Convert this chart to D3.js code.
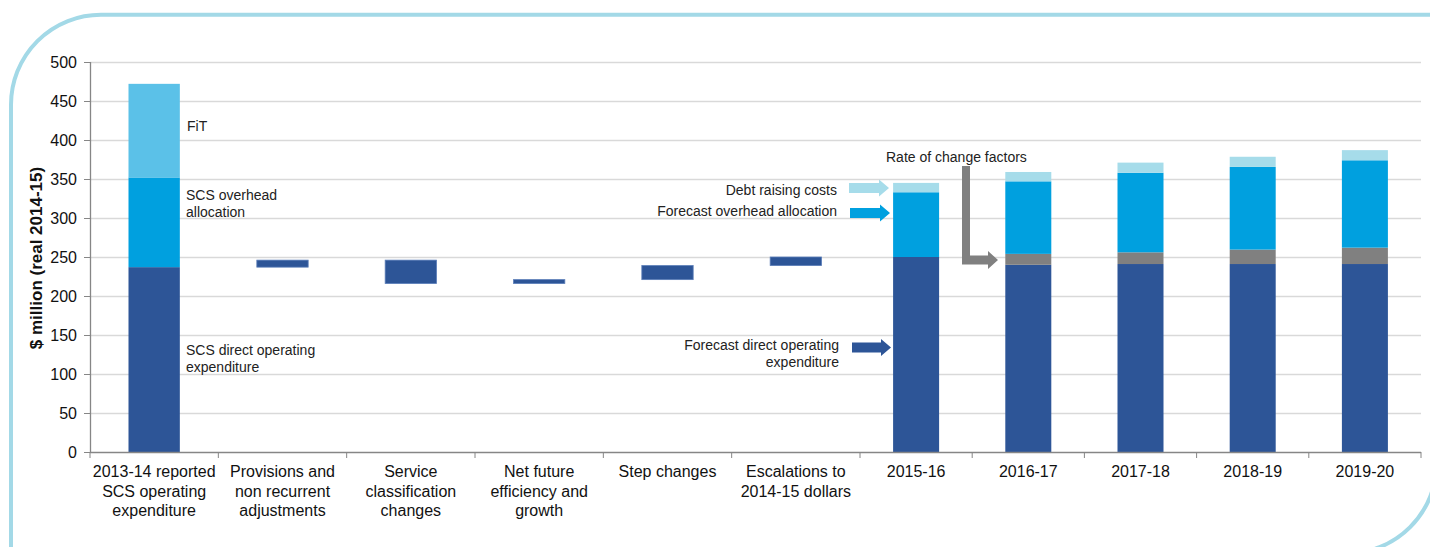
<!DOCTYPE html>
<html><head><meta charset="utf-8">
<script src="https://cdn.jsdelivr.net/npm/d3@7/dist/d3.min.js"></script>
<style>html,body{margin:0;padding:0;background:#fff;}svg{display:block;font-family:"Liberation Sans",Arial,sans-serif;}</style>
</head><body><svg id="c" width="1430" height="547"></svg>
<script>
// ---- data ----
const leftCategories = [
  ["2013-14 reported","SCS operating","expenditure"],
  ["Provisions and","non recurrent","adjustments"],
  ["Service","classification","changes"],
  ["Net future","efficiency and","growth"],
  ["Step changes"],
  ["Escalations to","2014-15 dollars"]
];
const rightCategories = ["2015-16","2016-17","2017-18","2018-19","2019-20"];
const baseDirect = 237;
const baseOverhead = 115;
const baseFiT = 120;
const waterfallSteps = [9, -30, 5, 18, 11];
const forecastDirect = [250, 240, 241, 241, 241];
const rateOfChange = [0, 14, 15, 18.5, 21];
const forecastOverhead = [83, 93, 102, 106, 112];
const debtRaising = [12, 12, 13, 13, 13];
const yTicks = [0,50,100,150,200,250,300,350,400,450,500];

// ---- colours ----
const C = {direct:"#2D5597", overhead:"#00A0DF", fit:"#5BC1E8", debt:"#A6DCEA", rate:"#808080"};

const svg = d3.select("#c");
const y = d3.scaleLinear().domain([0,500]).range([452,62]);
const leftKeys = leftCategories.map(d=>d.join(" "));
const xL = d3.scaleBand().domain(leftKeys).range([90,860]);
const xR = d3.scaleBand().domain(rightCategories).range([860,1421]);
const wL = xL.bandwidth()*0.4, wR = xR.bandwidth()*0.41;

// frame (round diagonal corner rectangle)
const fx0=11, fy0=14.7, fx1=1436.5, fy1=553.5, r=90;
svg.append("path")
  .attr("d",`M${fx0},${fy0+r} A${r},${r} 0 0 1 ${fx0+r},${fy0} L${fx1},${fy0} L${fx1},${fy1-r} A${r},${r} 0 0 1 ${fx1-r},${fy1} L${fx0},${fy1} Z`)
  .attr("fill","none").attr("stroke","#A3D9E7").attr("stroke-width",4);

// gridlines
svg.append("g").selectAll("line").data(yTicks.filter(d=>d>0)).join("line")
  .attr("x1",90).attr("x2",1421).attr("y1",d=>Math.round(y(d))+0.5).attr("y2",d=>Math.round(y(d))+0.5)
  .attr("stroke","#D9D9D9").attr("stroke-width",1.3);

// ---- left: first stacked bar ----
const g = svg.append("g");
const stack0 = [
  {v0:0, v1:baseDirect, c:C.direct},
  {v0:baseDirect, v1:baseDirect+baseOverhead, c:C.overhead},
  {v0:baseDirect+baseOverhead, v1:baseDirect+baseOverhead+baseFiT, c:C.fit}
];
const cx0 = xL(leftKeys[0]) + xL.bandwidth()/2;
g.selectAll("rect.s0").data(stack0).join("rect")
  .attr("x",cx0-wL/2).attr("width",wL)
  .attr("y",d=>y(d.v1)).attr("height",d=>y(d.v0)-y(d.v1)).attr("fill",d=>d.c);

// waterfall
let cum = baseDirect;
const wf = waterfallSteps.map((s,i)=>{const a=cum; cum+=s; return {k:leftKeys[i+1], lo:Math.min(a,cum), hi:Math.max(a,cum)};});
g.selectAll("rect.wf").data(wf).join("rect")
  .attr("x",d=>xL(d.k)+xL.bandwidth()/2-wL/2).attr("width",wL)
  .attr("y",d=>y(d.hi)).attr("height",d=>y(d.lo)-y(d.hi))
  .attr("fill",C.direct).attr("stroke","#5A7DB8").attr("stroke-width",0.8);

// right stacked bars
const rows = rightCategories.map((k,i)=>({k, parts:[
  {v:forecastDirect[i], c:C.direct},
  {v:rateOfChange[i], c:C.rate},
  {v:forecastOverhead[i], c:C.overhead},
  {v:debtRaising[i], c:C.debt}]}));
rows.forEach(row=>{
  let acc=0;
  row.parts.forEach(p=>{
    if(p.v<=0) return;
    g.append("rect").attr("x",xR(row.k)+xR.bandwidth()/2-wR/2).attr("width",wR)
      .attr("y",y(acc+p.v)).attr("height",y(acc)-y(acc+p.v)).attr("fill",p.c);
    acc+=p.v;
  });
});

// axes
const axisCol="#868686";
svg.append("line").attr("x1",90.5).attr("x2",90.5).attr("y1",y(500)).attr("y2",y(0)).attr("stroke",axisCol).attr("stroke-width",1.3);
svg.append("g").selectAll("line").data(yTicks).join("line")
  .attr("x1",84).attr("x2",90.5).attr("y1",d=>Math.round(y(d))+0.5).attr("y2",d=>Math.round(y(d))+0.5).attr("stroke",axisCol);
svg.append("g").selectAll("text").data(yTicks).join("text")
  .attr("x",77).attr("y",d=>y(d)).attr("dy","0.35em").attr("text-anchor","end")
  .attr("font-size",16).attr("fill","#111").text(d=>d);
svg.append("line").attr("x1",90).attr("x2",1421).attr("y1",452.5).attr("y2",452.5).attr("stroke",axisCol).attr("stroke-width",1.3);
const bounds = leftKeys.map(k=>xL(k)).concat(rightCategories.map(k=>xR(k))).concat([1421]);
svg.append("g").selectAll("line").data(bounds).join("line")
  .attr("x1",d=>d).attr("x2",d=>d).attr("y1",452).attr("y2",458).attr("stroke",axisCol);

// category labels
leftCategories.forEach((lines,i)=>{
  const t = svg.append("text").attr("x",xL(leftKeys[i])+xL.bandwidth()/2).attr("y",477)
    .attr("text-anchor","middle").attr("font-size",16).attr("fill","#111");
  lines.forEach((l,j)=>t.append("tspan").attr("x",xL(leftKeys[i])+xL.bandwidth()/2).attr("dy",j?19.5:0).text(l));
});
rightCategories.forEach(k=>{
  svg.append("text").attr("x",xR(k)+xR.bandwidth()/2).attr("y",477).attr("text-anchor","middle")
    .attr("font-size",16).attr("fill","#111").text(k);
});

// y title
svg.append("text").attr("transform","translate(42,258) rotate(-90)").attr("text-anchor","middle")
  .attr("font-size",17).attr("font-weight","bold").attr("fill","#111").text("$ million (real 2014-15)");

// annotations
function ann(x,yy,lines,anchor){
  const t=svg.append("text").attr("x",x).attr("y",yy).attr("font-size",14).attr("fill","#222").attr("text-anchor",anchor||"start");
  lines.forEach((l,j)=>t.append("tspan").attr("x",x).attr("dy",j?16.5:0).text(l));
}
ann(187,131,["FiT"]);
ann(186,200,["SCS overhead","allocation"]);
ann(186,355,["SCS direct operating","expenditure"]);
ann(886,162,["Rate of change factors"]);
ann(837,195,["Debt raising costs"],"end");
ann(837,216,["Forecast overhead  allocation"],"end");
ann(839,350,["Forecast direct operating","expenditure"],"end");

function arrow(x0,x1,yc,col){
  const sh=5, hh=8.5, hl=10;
  svg.append("path").attr("d",`M${x0},${yc-sh} L${x1-hl},${yc-sh} L${x1-hl},${yc-hh} L${x1},${yc} L${x1-hl},${yc+hh} L${x1-hl},${yc+sh} L${x0},${yc+sh} Z`).attr("fill",col);
}
arrow(849,889,188,C.debt);
arrow(850,890,213,C.overhead);
arrow(852,891,347.5,C.direct);
// elbow arrow
svg.append("path").attr("d","M962,166 L970,166 L970,255.5 L988,255.5 L988,251 L998,260 L988,269 L988,264.5 L962,264.5 Z").attr("fill",C.rate);
</script></body></html>
